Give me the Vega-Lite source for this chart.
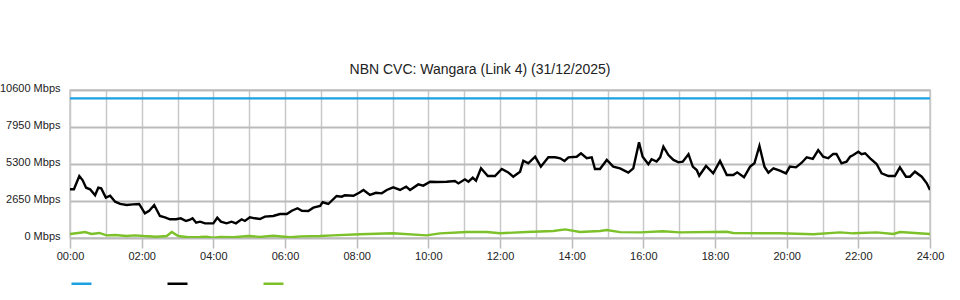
{
  "$schema": "https://vega.github.io/schema/vega-lite/v6.json",
  "autosize": {"type": "none"},
  "padding": {"left": 70, "top": 90, "right": 30, "bottom": 62},
  "width": 860,
  "height": 148,
  "background": "white",
  "title": {"text": "NBN CVC: Wangara (Link 4) (31/12/2025)", "fontSize": 14, "fontWeight": "normal", "font": "Liberation Sans", "color": "#222222", "anchor": "middle", "offset": 5, "dx": -20},
  "config": {
    "view": {"stroke": "#c8c8c8", "strokeWidth": 1.5},
    "axis": {"labelFont": "Liberation Sans", "labelFontSize": 11, "labelColor": "#222222", "title": null}
  },
  "data": {"values": [
    {"h": 0, "v": 10000, "s": "Capacity"}, {"h": 24, "v": 10000, "s": "Capacity"},
    {"h": 0.00, "v": 3490, "s": "In"}, {"h": 0.11, "v": 3490, "s": "In"}, {"h": 0.26, "v": 4440, "s": "In"}, {"h": 0.35, "v": 4150, "s": "In"}, {"h": 0.45, "v": 3600, "s": "In"}, {"h": 0.56, "v": 3490, "s": "In"}, {"h": 0.70, "v": 3060, "s": "In"}, {"h": 0.79, "v": 3600, "s": "In"}, {"h": 0.87, "v": 3560, "s": "In"}, {"h": 1.00, "v": 2890, "s": "In"}, {"h": 1.12, "v": 3030, "s": "In"}, {"h": 1.26, "v": 2600, "s": "In"}, {"h": 1.40, "v": 2440, "s": "In"}, {"h": 1.58, "v": 2360, "s": "In"}, {"h": 1.76, "v": 2410, "s": "In"}, {"h": 1.93, "v": 2440, "s": "In"}, {"h": 2.09, "v": 1770, "s": "In"}, {"h": 2.21, "v": 1955, "s": "In"}, {"h": 2.35, "v": 2360, "s": "In"}, {"h": 2.51, "v": 1580, "s": "In"}, {"h": 2.65, "v": 1480, "s": "In"}, {"h": 2.79, "v": 1340, "s": "In"}, {"h": 2.96, "v": 1340, "s": "In"}, {"h": 3.09, "v": 1410, "s": "In"}, {"h": 3.24, "v": 1220, "s": "In"}, {"h": 3.33, "v": 1290, "s": "In"}, {"h": 3.42, "v": 1410, "s": "In"}, {"h": 3.52, "v": 1100, "s": "In"}, {"h": 3.63, "v": 1170, "s": "In"}, {"h": 3.77, "v": 1050, "s": "In"}, {"h": 4.00, "v": 1050, "s": "In"}, {"h": 4.11, "v": 1450, "s": "In"}, {"h": 4.21, "v": 1170, "s": "In"}, {"h": 4.37, "v": 1050, "s": "In"}, {"h": 4.51, "v": 1170, "s": "In"}, {"h": 4.63, "v": 1050, "s": "In"}, {"h": 4.79, "v": 1340, "s": "In"}, {"h": 4.88, "v": 1220, "s": "In"}, {"h": 5.02, "v": 1480, "s": "In"}, {"h": 5.16, "v": 1410, "s": "In"}, {"h": 5.30, "v": 1360, "s": "In"}, {"h": 5.44, "v": 1530, "s": "In"}, {"h": 5.67, "v": 1580, "s": "In"}, {"h": 5.86, "v": 1720, "s": "In"}, {"h": 6.05, "v": 1720, "s": "In"}, {"h": 6.19, "v": 1955, "s": "In"}, {"h": 6.35, "v": 2130, "s": "In"}, {"h": 6.47, "v": 1955, "s": "In"}, {"h": 6.65, "v": 1930, "s": "In"}, {"h": 6.79, "v": 2170, "s": "In"}, {"h": 6.98, "v": 2290, "s": "In"}, {"h": 7.05, "v": 2560, "s": "In"}, {"h": 7.21, "v": 2435, "s": "In"}, {"h": 7.44, "v": 3010, "s": "In"}, {"h": 7.58, "v": 2960, "s": "In"}, {"h": 7.67, "v": 3060, "s": "In"}, {"h": 7.91, "v": 3030, "s": "In"}, {"h": 8.07, "v": 3240, "s": "In"}, {"h": 8.19, "v": 3440, "s": "In"}, {"h": 8.37, "v": 3080, "s": "In"}, {"h": 8.54, "v": 3240, "s": "In"}, {"h": 8.70, "v": 3200, "s": "In"}, {"h": 8.84, "v": 3440, "s": "In"}, {"h": 9.02, "v": 3630, "s": "In"}, {"h": 9.21, "v": 3440, "s": "In"}, {"h": 9.38, "v": 3680, "s": "In"}, {"h": 9.49, "v": 3440, "s": "In"}, {"h": 9.72, "v": 3840, "s": "In"}, {"h": 9.86, "v": 3750, "s": "In"}, {"h": 10.05, "v": 4030, "s": "In"}, {"h": 10.23, "v": 4010, "s": "In"}, {"h": 10.51, "v": 4030, "s": "In"}, {"h": 10.74, "v": 4080, "s": "In"}, {"h": 10.84, "v": 3910, "s": "In"}, {"h": 11.02, "v": 4200, "s": "In"}, {"h": 11.12, "v": 4030, "s": "In"}, {"h": 11.24, "v": 4320, "s": "In"}, {"h": 11.33, "v": 4100, "s": "In"}, {"h": 11.47, "v": 4990, "s": "In"}, {"h": 11.66, "v": 4440, "s": "In"}, {"h": 11.86, "v": 4440, "s": "In"}, {"h": 12.05, "v": 4940, "s": "In"}, {"h": 12.23, "v": 4700, "s": "In"}, {"h": 12.37, "v": 4390, "s": "In"}, {"h": 12.56, "v": 4750, "s": "In"}, {"h": 12.65, "v": 5540, "s": "In"}, {"h": 12.79, "v": 5350, "s": "In"}, {"h": 12.98, "v": 5820, "s": "In"}, {"h": 13.14, "v": 5110, "s": "In"}, {"h": 13.35, "v": 5780, "s": "In"}, {"h": 13.54, "v": 5780, "s": "In"}, {"h": 13.68, "v": 5710, "s": "In"}, {"h": 13.80, "v": 5520, "s": "In"}, {"h": 13.91, "v": 5780, "s": "In"}, {"h": 14.14, "v": 5820, "s": "In"}, {"h": 14.26, "v": 6070, "s": "In"}, {"h": 14.42, "v": 5710, "s": "In"}, {"h": 14.56, "v": 5780, "s": "In"}, {"h": 14.65, "v": 4940, "s": "In"}, {"h": 14.79, "v": 4940, "s": "In"}, {"h": 14.98, "v": 5590, "s": "In"}, {"h": 15.16, "v": 5110, "s": "In"}, {"h": 15.35, "v": 4990, "s": "In"}, {"h": 15.58, "v": 4680, "s": "In"}, {"h": 15.72, "v": 4990, "s": "In"}, {"h": 15.88, "v": 6850, "s": "In"}, {"h": 15.98, "v": 5820, "s": "In"}, {"h": 16.14, "v": 5280, "s": "In"}, {"h": 16.23, "v": 5640, "s": "In"}, {"h": 16.37, "v": 5470, "s": "In"}, {"h": 16.47, "v": 5780, "s": "In"}, {"h": 16.56, "v": 6540, "s": "In"}, {"h": 16.70, "v": 5940, "s": "In"}, {"h": 16.84, "v": 5590, "s": "In"}, {"h": 16.98, "v": 5420, "s": "In"}, {"h": 17.10, "v": 5470, "s": "In"}, {"h": 17.26, "v": 6000, "s": "In"}, {"h": 17.38, "v": 5110, "s": "In"}, {"h": 17.49, "v": 4870, "s": "In"}, {"h": 17.56, "v": 4460, "s": "In"}, {"h": 17.75, "v": 5160, "s": "In"}, {"h": 17.95, "v": 4630, "s": "In"}, {"h": 18.14, "v": 5520, "s": "In"}, {"h": 18.33, "v": 4510, "s": "In"}, {"h": 18.51, "v": 4510, "s": "In"}, {"h": 18.62, "v": 4700, "s": "In"}, {"h": 18.81, "v": 4350, "s": "In"}, {"h": 18.98, "v": 5110, "s": "In"}, {"h": 19.10, "v": 5350, "s": "In"}, {"h": 19.24, "v": 6590, "s": "In"}, {"h": 19.38, "v": 5110, "s": "In"}, {"h": 19.49, "v": 4680, "s": "In"}, {"h": 19.63, "v": 4990, "s": "In"}, {"h": 19.81, "v": 4820, "s": "In"}, {"h": 19.98, "v": 4630, "s": "In"}, {"h": 20.09, "v": 5110, "s": "In"}, {"h": 20.26, "v": 5060, "s": "In"}, {"h": 20.42, "v": 5390, "s": "In"}, {"h": 20.56, "v": 5780, "s": "In"}, {"h": 20.73, "v": 5660, "s": "In"}, {"h": 20.88, "v": 6300, "s": "In"}, {"h": 21.02, "v": 5820, "s": "In"}, {"h": 21.16, "v": 5710, "s": "In"}, {"h": 21.30, "v": 6020, "s": "In"}, {"h": 21.39, "v": 6020, "s": "In"}, {"h": 21.53, "v": 5350, "s": "In"}, {"h": 21.67, "v": 5470, "s": "In"}, {"h": 21.77, "v": 5820, "s": "In"}, {"h": 21.86, "v": 5940, "s": "In"}, {"h": 22.00, "v": 6180, "s": "In"}, {"h": 22.09, "v": 6000, "s": "In"}, {"h": 22.19, "v": 6070, "s": "In"}, {"h": 22.33, "v": 5710, "s": "In"}, {"h": 22.51, "v": 5300, "s": "In"}, {"h": 22.65, "v": 4630, "s": "In"}, {"h": 22.84, "v": 4440, "s": "In"}, {"h": 23.02, "v": 4440, "s": "In"}, {"h": 23.16, "v": 5060, "s": "In"}, {"h": 23.33, "v": 4390, "s": "In"}, {"h": 23.44, "v": 4390, "s": "In"}, {"h": 23.58, "v": 4750, "s": "In"}, {"h": 23.77, "v": 4390, "s": "In"}, {"h": 23.91, "v": 3920, "s": "In"}, {"h": 24.00, "v": 3440, "s": "In"},
    {"h": 0.00, "v": 290, "s": "Out"}, {"h": 0.28, "v": 380, "s": "Out"}, {"h": 0.42, "v": 430, "s": "Out"}, {"h": 0.60, "v": 290, "s": "Out"}, {"h": 0.82, "v": 360, "s": "Out"}, {"h": 1.02, "v": 190, "s": "Out"}, {"h": 1.26, "v": 215, "s": "Out"}, {"h": 1.58, "v": 145, "s": "Out"}, {"h": 1.82, "v": 190, "s": "Out"}, {"h": 2.05, "v": 145, "s": "Out"}, {"h": 2.42, "v": 95, "s": "Out"}, {"h": 2.70, "v": 145, "s": "Out"}, {"h": 2.84, "v": 430, "s": "Out"}, {"h": 3.02, "v": 145, "s": "Out"}, {"h": 3.30, "v": 50, "s": "Out"}, {"h": 3.63, "v": 70, "s": "Out"}, {"h": 3.80, "v": 100, "s": "Out"}, {"h": 4.00, "v": 30, "s": "Out"}, {"h": 4.19, "v": 70, "s": "Out"}, {"h": 4.56, "v": 60, "s": "Out"}, {"h": 4.98, "v": 145, "s": "Out"}, {"h": 5.30, "v": 80, "s": "Out"}, {"h": 5.67, "v": 165, "s": "Out"}, {"h": 6.14, "v": 50, "s": "Out"}, {"h": 6.44, "v": 120, "s": "Out"}, {"h": 6.98, "v": 145, "s": "Out"}, {"h": 7.34, "v": 190, "s": "Out"}, {"h": 8.09, "v": 265, "s": "Out"}, {"h": 9.01, "v": 340, "s": "Out"}, {"h": 9.95, "v": 190, "s": "Out"}, {"h": 10.32, "v": 335, "s": "Out"}, {"h": 11.07, "v": 430, "s": "Out"}, {"h": 11.63, "v": 430, "s": "Out"}, {"h": 12.00, "v": 340, "s": "Out"}, {"h": 12.74, "v": 430, "s": "Out"}, {"h": 13.49, "v": 500, "s": "Out"}, {"h": 13.82, "v": 620, "s": "Out"}, {"h": 14.23, "v": 430, "s": "Out"}, {"h": 14.79, "v": 500, "s": "Out"}, {"h": 14.98, "v": 570, "s": "Out"}, {"h": 15.35, "v": 420, "s": "Out"}, {"h": 15.91, "v": 405, "s": "Out"}, {"h": 16.55, "v": 480, "s": "Out"}, {"h": 17.02, "v": 405, "s": "Out"}, {"h": 18.33, "v": 450, "s": "Out"}, {"h": 18.51, "v": 360, "s": "Out"}, {"h": 19.81, "v": 335, "s": "Out"}, {"h": 20.74, "v": 265, "s": "Out"}, {"h": 21.49, "v": 405, "s": "Out"}, {"h": 21.86, "v": 335, "s": "Out"}, {"h": 22.51, "v": 405, "s": "Out"}, {"h": 22.98, "v": 286, "s": "Out"}, {"h": 23.16, "v": 430, "s": "Out"}, {"h": 24.00, "v": 290, "s": "Out"}
  ]},
  "mark": {"type": "line", "strokeWidth": 2.4, "clip": true},
  "encoding": {
    "x": {"field": "h", "type": "quantitative", "scale": {"domain": [0, 24], "nice": false, "zero": false},
      "axis": {"values": [0,1,2,3,4,5,6,7,8,9,10,11,12,13,14,15,16,17,18,19,20,21,22,23,24],
        "labelExpr": "datum.value % 2 == 0 ? ((datum.value < 10 ? '0' : '') + datum.value + ':00') : ''",
        "labelOverlap": false, "labelFlush": false, "labelPadding": 2,
        "grid": true, "gridColor": "#c8c8c8", "gridWidth": 1.5,
        "domain": false, "tickSize": 10, "tickColor": "#bbbbbb", "tickWidth": 1.5,
        "tickOpacity": {"condition": {"test": "datum.value % 2 == 1", "value": 0}, "value": 1}}},
    "y": {"field": "v", "type": "quantitative", "scale": {"domain": [0, 10600], "nice": false},
      "axis": {"values": [0, 2650, 5300, 7950, 10600], "labelExpr": "datum.value + ' Mbps'",
        "grid": true, "gridColor": "#bbbbbb", "gridWidth": 2, "domain": false, "ticks": false, "labelPadding": 10, "labelOffset": -2}},
    "color": {"field": "s", "type": "nominal",
      "scale": {"domain": ["Capacity", "In", "Out"], "range": ["#1ba1e2", "#000000", "#7cc12a"]},
      "legend": {"orient": "none", "legendX": 0, "legendY": 182, "direction": "horizontal", "columns": 3,
        "symbolType": "stroke", "symbolSize": 400, "symbolStrokeWidth": 2.5, "labelExpr": "''",
        "labelOffset": 0, "columnPadding": 65, "padding": 0, "title": null}}
  }
}
